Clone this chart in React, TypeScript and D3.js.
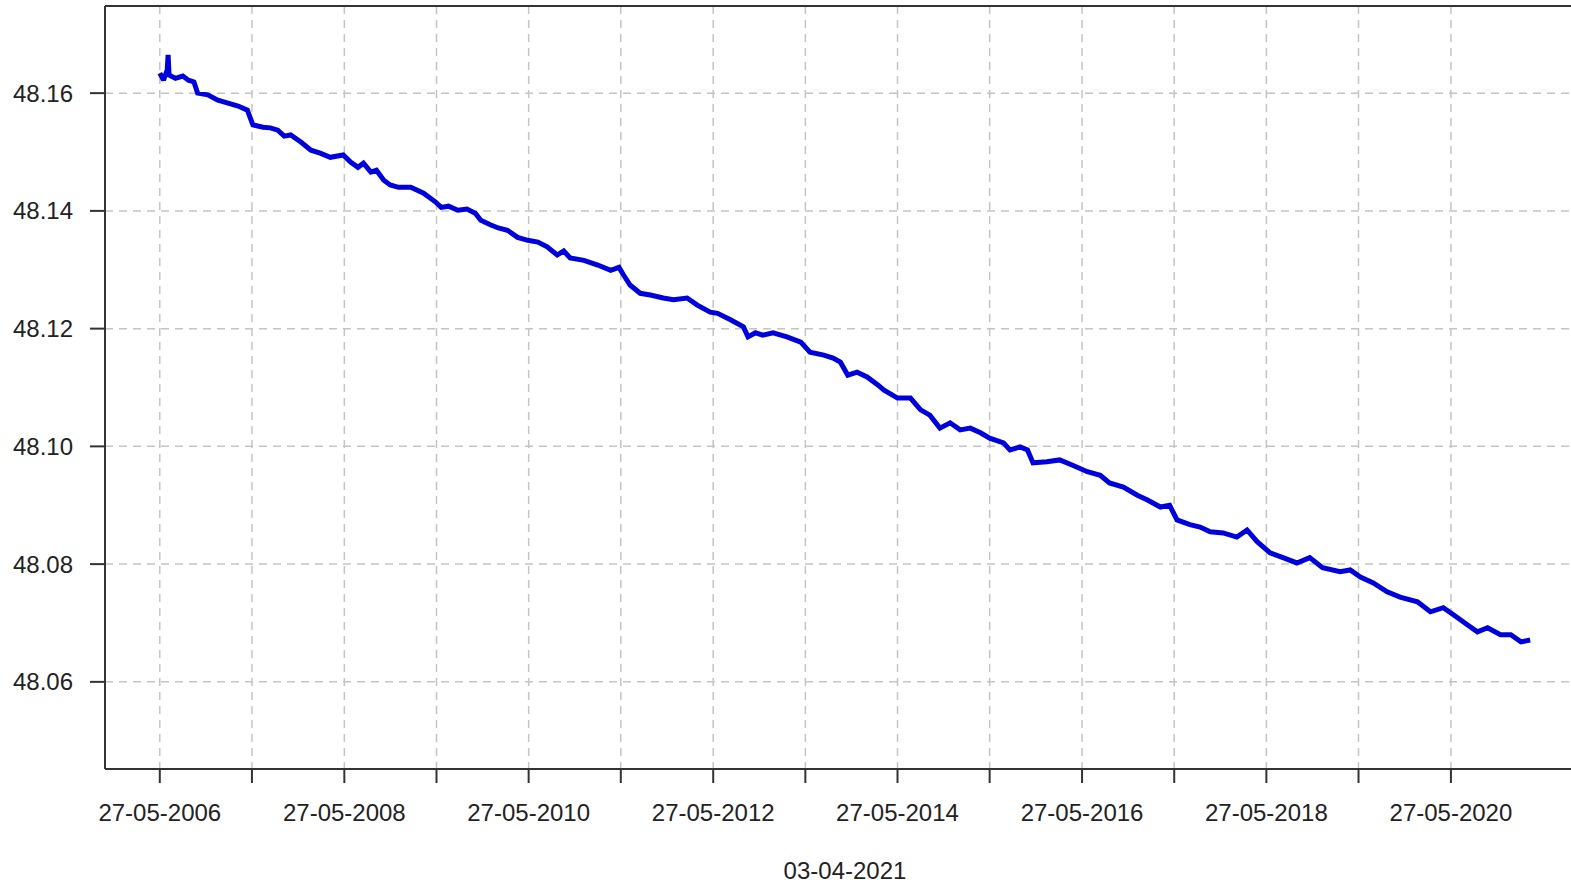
import React from "react";
import * as d3 from "d3";

// decimal-year time stamps and values
const times: number[] = [
  2006.40, 2006.44, 2006.48, 2006.49, 2006.50, 2006.57, 2006.65, 2006.71, 2006.77, 2006.81,
  2006.92, 2007.03, 2007.14, 2007.25, 2007.35, 2007.41, 2007.52, 2007.60, 2007.68, 2007.75,
  2007.82, 2007.93, 2008.04, 2008.14, 2008.25, 2008.39, 2008.47, 2008.55, 2008.61, 2008.69,
  2008.75, 2008.83, 2008.90, 2008.99, 2009.12, 2009.26, 2009.39, 2009.45, 2009.53, 2009.63,
  2009.73, 2009.82, 2009.88, 2009.99, 2010.07, 2010.17, 2010.28, 2010.39, 2010.50, 2010.60,
  2010.71, 2010.78, 2010.85, 2011.00, 2011.15, 2011.29, 2011.38, 2011.43, 2011.50, 2011.61,
  2011.72, 2011.86, 2011.97, 2012.12, 2012.23, 2012.37, 2012.45, 2012.59, 2012.73, 2012.78,
  2012.86, 2012.94, 2013.05, 2013.20, 2013.35, 2013.45, 2013.60, 2013.70, 2013.78, 2013.86,
  2013.96, 2014.07, 2014.19, 2014.25, 2014.40, 2014.54, 2014.65, 2014.75, 2014.86, 2014.97,
  2015.08, 2015.19, 2015.30, 2015.40, 2015.55, 2015.62, 2015.73, 2015.81, 2015.87, 2016.02,
  2016.16, 2016.30, 2016.46, 2016.60, 2016.70, 2016.85, 2017.00, 2017.11, 2017.25, 2017.35,
  2017.43, 2017.57, 2017.68, 2017.79, 2017.93, 2018.08, 2018.19, 2018.30, 2018.44, 2018.58,
  2018.73, 2018.87, 2019.01, 2019.20, 2019.31, 2019.42, 2019.56, 2019.71, 2019.85, 2020.04,
  2020.18, 2020.32, 2020.43, 2020.58, 2020.69, 2020.80, 2020.94, 2021.05, 2021.16, 2021.26,
];

const values: number[] = [
  48.1634, 48.1622, 48.1639, 48.1665, 48.1631, 48.1625, 48.1629, 48.1622, 48.1619, 48.1600,
  48.1597, 48.1588, 48.1583, 48.1578, 48.1571, 48.1546, 48.1542, 48.1541, 48.1537, 48.1527,
  48.1529, 48.1517, 48.1503, 48.1498, 48.1491, 48.1495, 48.1483, 48.1474, 48.1481, 48.1466,
  48.1469, 48.1452, 48.1444, 48.1440, 48.1440, 48.1430, 48.1415, 48.1406, 48.1408, 48.1401,
  48.1403, 48.1396, 48.1384, 48.1376, 48.1371, 48.1367, 48.1355, 48.1350, 48.1347, 48.1339,
  48.1325, 48.1332, 48.1320, 48.1316, 48.1308, 48.1299, 48.1304, 48.1291, 48.1274, 48.1260,
  48.1257, 48.1252, 48.1249, 48.1252, 48.1240, 48.1228, 48.1226, 48.1215, 48.1203, 48.1186,
  48.1193, 48.1189, 48.1193, 48.1186, 48.1177, 48.1160, 48.1155, 48.1150, 48.1143, 48.1121,
  48.1126, 48.1118, 48.1104, 48.1096, 48.1082, 48.1082, 48.1062, 48.1053, 48.1031, 48.1040,
  48.1028, 48.1031, 48.1023, 48.1014, 48.1006, 48.0994, 48.0999, 48.0994, 48.0972, 48.0974,
  48.0977, 48.0968, 48.0957, 48.0951, 48.0938, 48.0931, 48.0917, 48.0909, 48.0897, 48.0900,
  48.0875, 48.0867, 48.0863, 48.0855, 48.0853, 48.0846, 48.0858, 48.0838, 48.0819, 48.0811,
  48.0802, 48.0811, 48.0794, 48.0787, 48.0790, 48.0778, 48.0768, 48.0753, 48.0744, 48.0736,
  48.0719, 48.0726, 48.0714, 48.0697, 48.0685, 48.0692, 48.0680, 48.0680, 48.0668, 48.0671,
];

const yTicks: number[] = [48.06, 48.08, 48.10, 48.12, 48.14, 48.16];
const tickYears: number[] = [2006, 2007, 2008, 2009, 2010, 2011, 2012, 2013, 2014, 2015, 2016, 2017, 2018, 2019, 2020];
const labelYears: number[] = [2006, 2008, 2010, 2012, 2014, 2016, 2018, 2020];
const subtitle = "03-04-2021";

const W = 1571;
const H = 885;
const L = 105, R = 1585, T = 6, B = 769;

function toDate(t: number): Date {
  const y = Math.floor(t);
  const start = new Date(y, 0, 1).getTime();
  return new Date(start + (t - y) * 365.25 * 86400000);
}

const fmt = d3.timeFormat("%d-%m-%Y");

export default function App() {
  const dates = times.map(toDate);
  const first = dates[0].getTime();
  const last = dates[dates.length - 1].getTime();
  const pad = (last - first) * 0.04;
  const x = d3.scaleTime().domain([new Date(first - pad), new Date(last + pad)]).range([L, R]);
  const y = d3.scaleLinear().domain([48.0452, 48.1748]).range([B, T]);
  const line = d3
    .line<number>()
    .x((_, i) => x(dates[i]))
    .y((v) => y(v));
  const tickDates = tickYears.map((yr) => new Date(yr, 4, 27));
  const font = "'Liberation Sans', Arial, sans-serif";
  const grid = "#c4c4c4";
  const fs = 24;
  return (
    <svg width={W} height={H} style={{ position: "absolute", left: 0, top: 0, background: "#fff" }}>
      <rect x={0} y={0} width={W} height={H} fill="#fff" />
      {tickDates.map((d, i) => (
        <line key={"vg" + i} x1={x(d)} x2={x(d)} y1={T} y2={B} stroke={grid} strokeWidth={1.5} strokeDasharray="8,6" />
      ))}
      {yTicks.map((v, i) => (
        <line key={"hg" + i} x1={L} x2={R} y1={y(v)} y2={y(v)} stroke={grid} strokeWidth={1.5} strokeDasharray="8,6" />
      ))}
      <path d={line(values) || ""} fill="none" stroke="#0000dd" strokeWidth={5} strokeLinejoin="miter" strokeMiterlimit={2} />
      <line x1={L} x2={L} y1={T} y2={B} stroke="#333" strokeWidth={2} />
      <line x1={L} x2={R} y1={T} y2={T} stroke="#333" strokeWidth={2} />
      <line x1={L} x2={R} y1={B} y2={B} stroke="#333" strokeWidth={2} />
      {yTicks.map((v, i) => (
        <g key={"yt" + i}>
          <line x1={L - 15} x2={L} y1={y(v)} y2={y(v)} stroke="#333" strokeWidth={2} />
          <text x={73} y={y(v) + 8.5} textAnchor="end" fontFamily={font} fontSize={fs} fill="#222">
            {v.toFixed(2)}
          </text>
        </g>
      ))}
      {tickDates.map((d, i) => (
        <line key={"xt" + i} x1={x(d)} x2={x(d)} y1={B} y2={B + 14} stroke="#333" strokeWidth={2} />
      ))}
      {labelYears.map((yr, i) => {
        const d = new Date(yr, 4, 27);
        return (
          <text key={"xl" + i} x={x(d)} y={821} textAnchor="middle" fontFamily={font} fontSize={fs} fill="#222">
            {fmt(d)}
          </text>
        );
      })}
      <text x={(L + R) / 2} y={879} textAnchor="middle" fontFamily={font} fontSize={fs} fill="#222">
        {subtitle}
      </text>
    </svg>
  );
}
